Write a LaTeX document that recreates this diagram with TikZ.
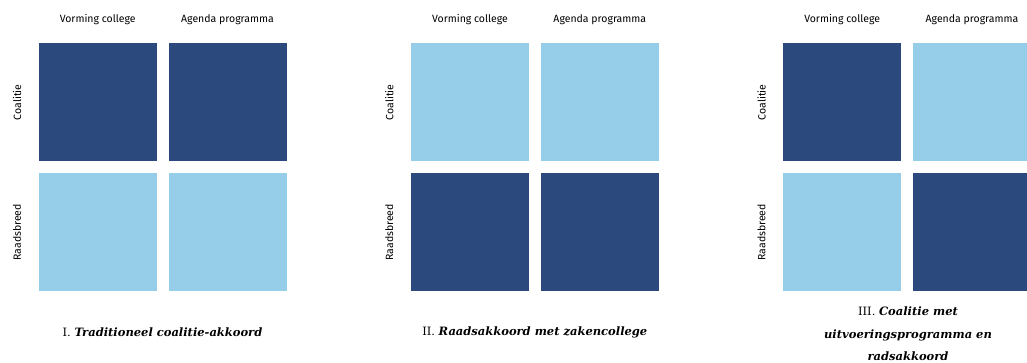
\documentclass[tikz,border=0pt]{standalone}
\usepackage{fontspec}
\setmainfont{DejaVu Serif}
\setsansfont{Fira Sans}
\definecolor{donker}{RGB}{44,73,125}
\definecolor{licht}{RGB}{150,206,233}
\tikzset{
  vak/.style={rectangle, minimum size=118pt, inner sep=0pt},
  donkervak/.style={vak, fill=donker},
  lichtvak/.style={vak, fill=licht},
  kop/.style={font=\sffamily\fontsize{10.5}{12}\selectfont, inner sep=0pt},
  zij/.style={kop, rotate=90},
  titel/.style={font=\fontsize{11.5}{22.5}\selectfont, align=center, inner sep=0pt}
}
\begin{document}
\begin{tikzpicture}[x=1pt,y=-1pt]
\useasboundingbox (0,0) rectangle (1027,363);
% I
\node (a1) [donkervak] at (97.7,102.3) {};
\node (a2) [donkervak] at (227.5,102.3) {};
\node (a3) [lichtvak] at (97.7,232.3) {};
\node (a4) [lichtvak] at (227.5,232.3) {};
\node (av) [kop] at (97.7,20) {Vorming college};
\node (ag) [kop] at (227.5,20) {Agenda programma};
\node (ac) [zij] at (17,102.3) {Coalitie};
\node (ar) [zij] at (17,232.3) {Raadsbreed};
\node (at) [titel] at (162.5,332) {I. \textbf{\textit{Traditioneel coalitie-akkoord}}};
% II
\node (b1) [lichtvak] at (470,102.3) {};
\node (b2) [lichtvak] at (599.8,102.3) {};
\node (b3) [donkervak] at (470,232.3) {};
\node (b4) [donkervak] at (599.8,232.3) {};
\node (bv) [kop] at (470,20) {Vorming college};
\node (bg) [kop] at (599.8,20) {Agenda programma};
\node (bc) [zij] at (389.3,102.3) {Coalitie};
\node (br) [zij] at (389.3,232.3) {Raadsbreed};
\node (bt) [titel] at (534.8,332) {II. \textbf{\textit{Raadsakkoord met zakencollege}}};
% III
\node (c1) [donkervak] at (842.2,102.3) {};
\node (c2) [lichtvak] at (972,102.3) {};
\node (c3) [lichtvak] at (842.2,232.3) {};
\node (c4) [donkervak] at (972,232.3) {};
\node (cv) [kop] at (842.2,20) {Vorming college};
\node (cg) [kop] at (972,20) {Agenda programma};
\node (cc) [zij] at (761.6,102.3) {Coalitie};
\node (cr) [zij] at (761.6,232.3) {Raadsbreed};
\node (ct) [titel] at (908,334) {III. \textbf{\textit{Coalitie met}}\\ \textbf{\textit{uitvoeringsprogramma en}}\\ \textbf{\textit{radsakkoord}}};
\end{tikzpicture}
\end{document}
